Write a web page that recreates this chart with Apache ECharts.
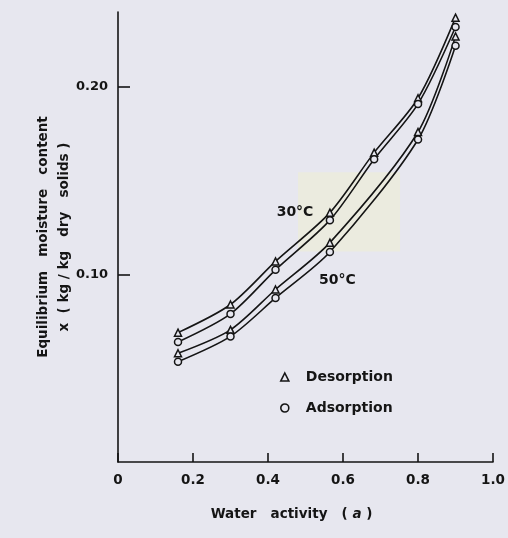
<!DOCTYPE html>
<html>
<head>
<meta charset="utf-8">
<script src="https://cdn.jsdelivr.net/npm/echarts@6/dist/echarts.min.js"></script>
<style>
html,body{margin:0;padding:0;background:#e7e7ef;}
#c{width:508px;height:538px;}
</style>
</head>
<body>
<div id="c"></div>
<script>
// Water activity (x) and equilibrium moisture content (y)
const desorption30 = [[0.16,0.069],[0.30,0.084],[0.42,0.107],[0.565,0.133],[0.683,0.165],[0.80,0.194],[0.90,0.237]];
const adsorption30 = [[0.16,0.064],[0.30,0.079],[0.42,0.1025],[0.565,0.129],[0.683,0.1615],[0.80,0.191],[0.90,0.232]];
const desorption50 = [[0.16,0.058],[0.30,0.0705],[0.42,0.092],[0.565,0.117],[0.80,0.176],[0.90,0.227]];
const adsorption50 = [[0.16,0.0535],[0.30,0.067],[0.42,0.0875],[0.565,0.112],[0.80,0.172],[0.90,0.222]];
const xTicks = [0, 0.2, 0.4, 0.6, 0.8, 1.0];
const yTickLabels = [0.10, 0.20];
const curveLabels = [{name:'30°C', value:[0.472,0.133]}, {name:'50°C', value:[0.585,0.0968]}];

const INK = '#151515';
const BG = '#e7e7ef';
const FONT = 'DejaVu Sans';

function lineSeries(name, data, symbol) {
  return {
    name: name, type: 'line', data: data, smooth: 0.28,
    symbol: symbol, symbolSize: 7,
    lineStyle: {color: INK, width: 1.6},
    itemStyle: {color: BG, borderColor: INK, borderWidth: 1.5},
    emphasis: {disabled: true}, z: 3
  };
}

const chart = echarts.init(document.getElementById('c'), null, {renderer: 'canvas'});
chart.setOption({
  animation: false,
  backgroundColor: BG,
  textStyle: {fontFamily: FONT, color: INK},
  grid: {left: 118, right: 9, top: 12, bottom: 76, containLabel: false},
  legend: {
    orient: 'vertical', left: 275, top: 365, itemGap: 17,
    itemWidth: 8, itemHeight: 8,
    textStyle: {fontFamily: FONT, fontSize: 14, fontWeight: 'bold', color: INK, padding: [0,0,0,12]},
    data: [
      {name: 'Desorption', icon: 'triangle', itemStyle: {color: BG, borderColor: INK, borderWidth: 1.6}},
      {name: 'Adsorption', icon: 'circle', itemStyle: {color: BG, borderColor: INK, borderWidth: 1.6}}
    ],
    selectedMode: false
  },
  xAxis: {
    type: 'value', min: 0, max: 1, interval: 0.2,
    name: 'Water   activity   ( {i|a} )',
    nameLocation: 'middle', nameGap: 45, nameMoveOverlap: false,
    nameTextStyle: {fontFamily: FONT, fontSize: 13.5, fontWeight: 'bold', color: INK, padding: [0, 28, 0, 0],
      rich: {i: {fontFamily: FONT, fontSize: 13.5, fontWeight: 'bold', fontStyle: 'italic', color: INK}}},
    axisLine: {show: true, lineStyle: {color: INK, width: 1.6}},
    axisTick: {show: true, inside: true, length: 9, lineStyle: {color: INK, width: 1.6}},
    axisLabel: {margin: 11, fontSize: 13.5, fontWeight: 'bold', color: INK, fontFamily: FONT,
      formatter: v => (v === 0 ? '0' : v.toFixed(1))},
    splitLine: {show: false}
  },
  yAxis: {
    type: 'value', min: 0, max: 0.24,
    name: 'Equilibrium   moisture   content\nx  ( kg / kg   dry   solids )',
    nameLocation: 'middle', nameRotate: 90, nameGap: 43, nameMoveOverlap: false,
    nameTextStyle: {fontFamily: FONT, fontSize: 13.5, fontWeight: 'bold', color: INK, lineHeight: 21, align: 'center'},
    axisLine: {show: true, lineStyle: {color: INK, width: 1.6}},
    axisTick: {show: true, inside: true, length: 12, customValues: yTickLabels, lineStyle: {color: INK, width: 1.6}},
    axisLabel: {margin: 10, fontSize: 13, fontWeight: 'bold', color: INK, fontFamily: FONT,
      customValues: yTickLabels, formatter: v => v.toFixed(2)},
    splitLine: {show: false}
  },
  series: [
    lineSeries('Desorption', desorption30, 'triangle'),
    lineSeries('Adsorption', adsorption30, 'circle'),
    lineSeries('Desorption', desorption50, 'triangle'),
    lineSeries('Adsorption', adsorption50, 'circle')
  ]
});

// Scan tint patch and curve annotations, positioned through the chart's own scales
const p0 = chart.convertToPixel({gridIndex: 0}, [0.48, 0.1545]);
const p1 = chart.convertToPixel({gridIndex: 0}, [0.752, 0.1123]);
const graphics = [{
  type: 'rect', z: -10, silent: true,
  shape: {x: p0[0], y: p0[1], width: p1[0] - p0[0], height: p1[1] - p0[1]},
  style: {fill: '#ebebdf'}
}];
curveLabels.forEach(c => {
  const p = chart.convertToPixel({gridIndex: 0}, c.value);
  graphics.push({
    type: 'text', x: p[0], y: p[1], z: 10, silent: true,
    style: {text: c.name, fill: INK, font: 'bold 14px "DejaVu Sans"', align: 'center', verticalAlign: 'middle'}
  });
});
chart.setOption({graphic: graphics});
</script>
</body>
</html>
